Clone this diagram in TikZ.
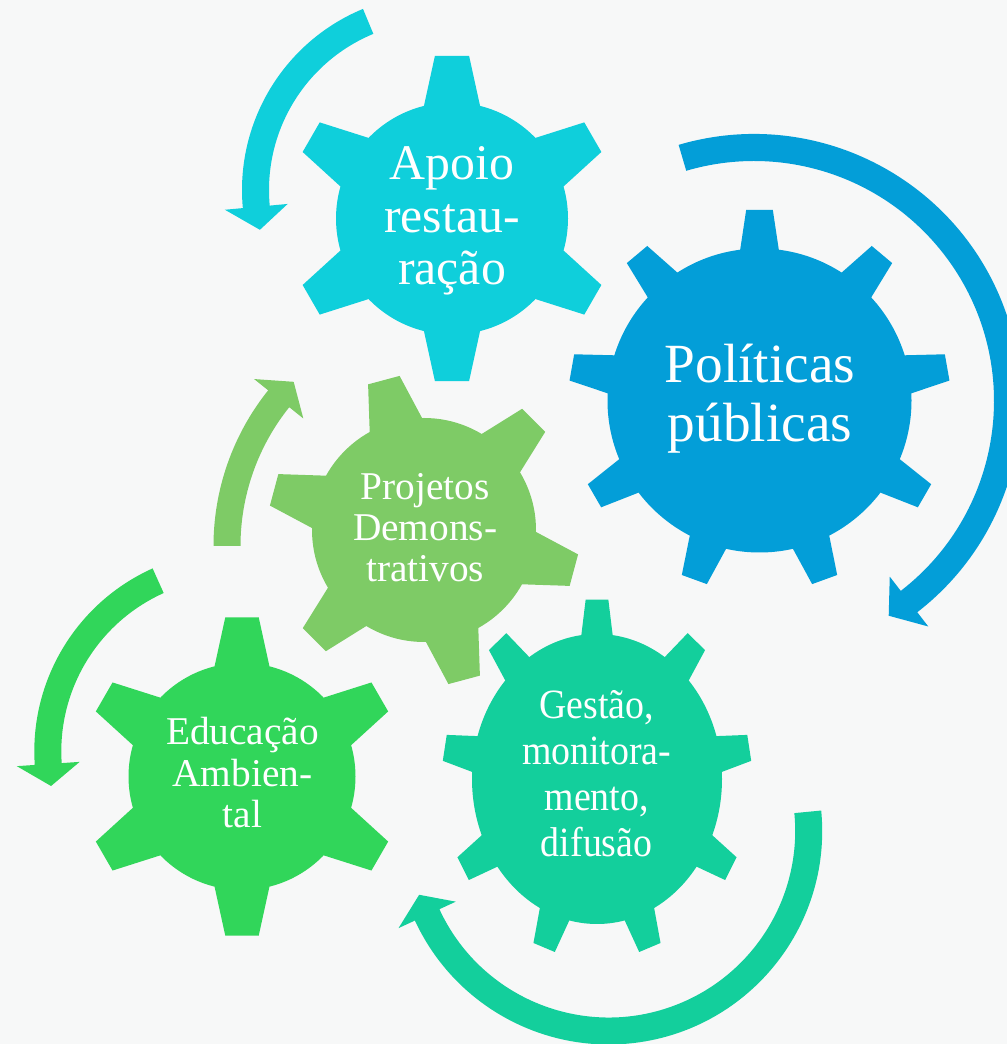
\documentclass[tikz,border=0pt]{standalone}
\usepackage{fontspec}
\setmainfont{Liberation Serif}
\definecolor{bgcol}{HTML}{F7F8F8}
\definecolor{gcyan}{HTML}{0FCFDB}
\definecolor{gblue}{HTML}{039ED8}
\definecolor{glgreen}{HTML}{7ECB66}
\definecolor{ggreen}{HTML}{31D65A}
\definecolor{gteal}{HTML}{13CF9C}
\tikzset{
  pics/gear/.style args={#1/#2/#3/#4/#5/#6}{% n teeth / first angle / body r / tip r / base half-angle / tip half-angle
    code={
      \fill (0,0) circle[radius=#3];
      \foreach \k in {1,...,#1}{
        \pgfmathsetmacro{\th}{#2+(\k-1)*360/#1}
        \fill (0,0) -- (\th-#5:#3) -- (\th-#6:#4) -- (\th+#6:#4) -- (\th+#5:#3) -- cycle;
      }
    }
  },
  lbl/.style={text=white, inner sep=0pt, anchor=base}
}
% circular arrow: cx, cy, R, start angle, head base angle, tip angle, colour
\newcommand{\circarrow}[7]{%
  \pgfmathsetmacro{\ro}{#3+13.5}%
  \pgfmathsetmacro{\ri}{#3-13.5}%
  \pgfmathsetmacro{\ho}{#3+31.5}%
  \pgfmathsetmacro{\hi}{#3-31.5}%
  \fill[#7, shift={(#1,#2)}] (#4:\ro) arc[start angle=#4, end angle=#5, radius=\ro]
     -- (#5:\ho) -- (#6:#3) -- (#5:\hi) -- (#5:\ri)
     arc[start angle=#5, end angle=#4, radius=\ri] -- cycle;
}
\begin{document}
\begin{tikzpicture}[x=1bp,y=1bp]
\useasboundingbox (0,0) rectangle (1007,1044);
\fill[bgcol] (0,0) rectangle (1007,1044);
\clip (0,0) rectangle (1007,1044);

% gears
\pic[color=gcyan]   at (452,825.5)   {gear=6/90/116/163.5/14/6};
\pic[color=gblue]   at (759.5,643.5) {gear=9/90/152/191/7.3/4};
\pic[color=glgreen] at (424,514)     {gear=6/105/112/156/14/6};
\pic[color=ggreen]  at (242,267.5)   {gear=6/90/113.5/160/14/6};
\pic[color=gteal, yscale=1.16] at (597,265) {gear=9/90/125/155/7.2/4.2};

% circular arrows
\circarrow{438}{854}{182.5}{112.5}{185.3}{192.6}{gcyan}
\circarrow{754}{643}{253.5}{106.4}{-52.3}{-57.9}{gblue}
\circarrow{462.5}{498}{235.5}{180}{141.3}{135.8}{glgreen}
\circarrow{234.8}{292.7}{187}{114.2}{183.9}{190.7}{ggreen}
\circarrow{608.7}{213}{200}{5.5}{-155.2}{-161.4}{gteal}

% labels
\node[lbl, font=\fontsize{50}{52.5}\selectfont] (t1) at (452,864)
  {\begin{tabular}[t]{@{}c@{}}Apoio\\restau-\\ração\end{tabular}};
\node[lbl, font=\fontsize{55.5}{59.4}\selectfont] (t2) at (760,661.7)
  {\begin{tabular}[t]{@{}c@{}}Políticas\\públicas\end{tabular}};
\node[lbl, font=\fontsize{39.5}{41.2}\selectfont] (t3) at (425.2,544.7)
  {\begin{tabular}[t]{@{}c@{}}Projetos\\Demons-\\trativos\end{tabular}};
\node[lbl, font=\fontsize{39.5}{41.3}\selectfont] (t4) at (242.5,299)
  {\begin{tabular}[t]{@{}c@{}}Educação\\Ambien-\\tal\end{tabular}};
\begin{scope}[shift={(596.7,325.7)}, yscale=1.1]
\node[lbl, transform shape, font=\fontsize{38}{41.9}\selectfont] (t5) at (0,0)
  {\begin{tabular}[t]{@{}c@{}}Gestão,\\monitora-\\mento,\\difusão\end{tabular}};
\end{scope}
\end{tikzpicture}
\end{document}
